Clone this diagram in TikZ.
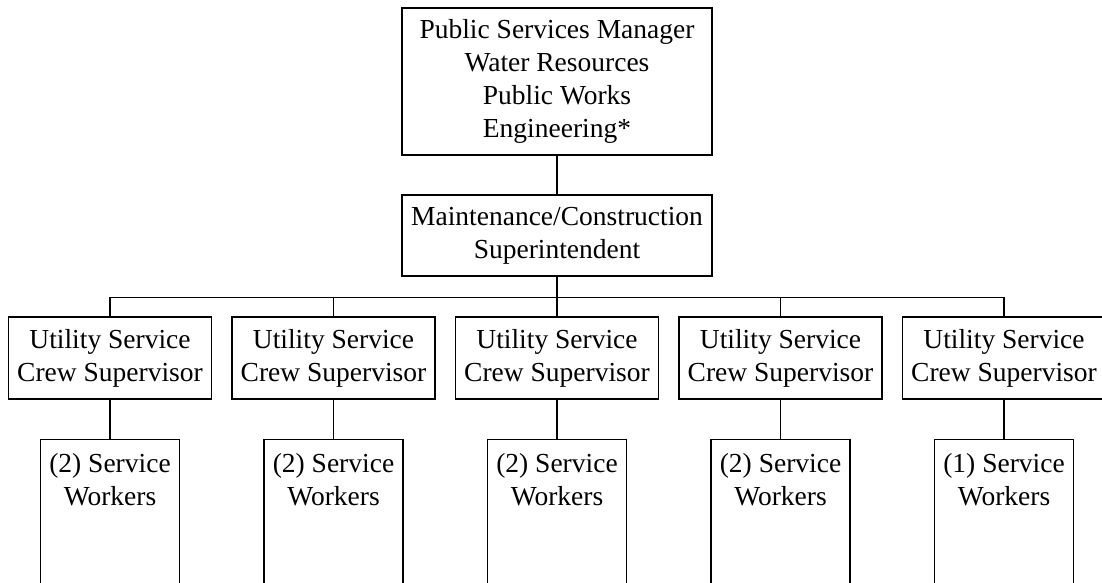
\documentclass[tikz,border=0pt]{standalone}
\usepackage{fontspec}
\setmainfont{Liberation Serif}
\usepackage{tikz}
\usetikzlibrary{positioning, calc}
\tikzset{
  orgbox/.style={rectangle, draw=black, fill=white, align=center,
    font=\fontsize{27.5}{33}\selectfont, line width=1.4pt, inner sep=2pt},
  topbox/.style={orgbox, minimum width=310pt, minimum height=147pt},
  supbox/.style={orgbox, minimum width=203pt, minimum height=82pt},
  workbox/.style={orgbox, minimum width=139pt, minimum height=220pt, anchor=north},
  worktext/.style={anchor=north, align=center, inner sep=0pt, yshift=-14pt,
    font=\fontsize{27.5}{33}\selectfont},
  line/.style={line width=1.4pt, color=black}
}
\begin{document}
\begin{tikzpicture}[x=1pt, y=-1pt]
  \useasboundingbox (0,0) rectangle (1102,583);
  \clip (0,0) rectangle (1102,583);

  % Manager and superintendent
  \node[topbox] (mgr) at (557, 81.5) {Public Services Manager\\Water Resources\\Public Works\\Engineering*};
  \node[orgbox, minimum width=310pt, minimum height=81pt] (supt) at (557, 235.5) {Maintenance/Construction\\Superintendent};

  % Crew supervisors
  \node[supbox] (sup1) at (110, 358) {Utility Service\\Crew Supervisor};
  \node[supbox] (sup2) at (333.5, 358) {Utility Service\\Crew Supervisor};
  \node[supbox] (sup3) at (557, 358) {Utility Service\\Crew Supervisor};
  \node[supbox] (sup4) at (780.5, 358) {Utility Service\\Crew Supervisor};
  \node[supbox] (sup5) at (1004, 358) {Utility Service\\Crew Supervisor};

  % Service workers
  \node[workbox, label={[worktext]north:(2) Service\\Workers}] (work1) at (110, 439) {};
  \node[workbox, label={[worktext]north:(2) Service\\Workers}] (work2) at (333.5, 439) {};
  \node[workbox, label={[worktext]north:(2) Service\\Workers}] (work3) at (557, 439) {};
  \node[workbox, label={[worktext]north:(2) Service\\Workers}] (work4) at (780.5, 439) {};
  \node[workbox, label={[worktext]north:(1) Service\\Workers}] (work5) at (1004, 439) {};

  % Paths
  \coordinate (bus) at (557, 297.5);
  \draw[line] (mgr) -- (supt);
  \draw[line] (supt) -- (bus);
  \draw[line] (sup1.north) |- (bus) -| (sup5.north);
  \draw[line] (sup2.north) -- (sup2.north |- bus);
  \draw[line] (sup3.north) -- (bus);
  \draw[line] (sup4.north) -- (sup4.north |- bus);
  \draw[line] (sup1) -- (work1);
  \draw[line] (sup2) -- (work2);
  \draw[line] (sup3) -- (work3);
  \draw[line] (sup4) -- (work4);
  \draw[line] (sup5) -- (work5);
\end{tikzpicture}
\end{document}
